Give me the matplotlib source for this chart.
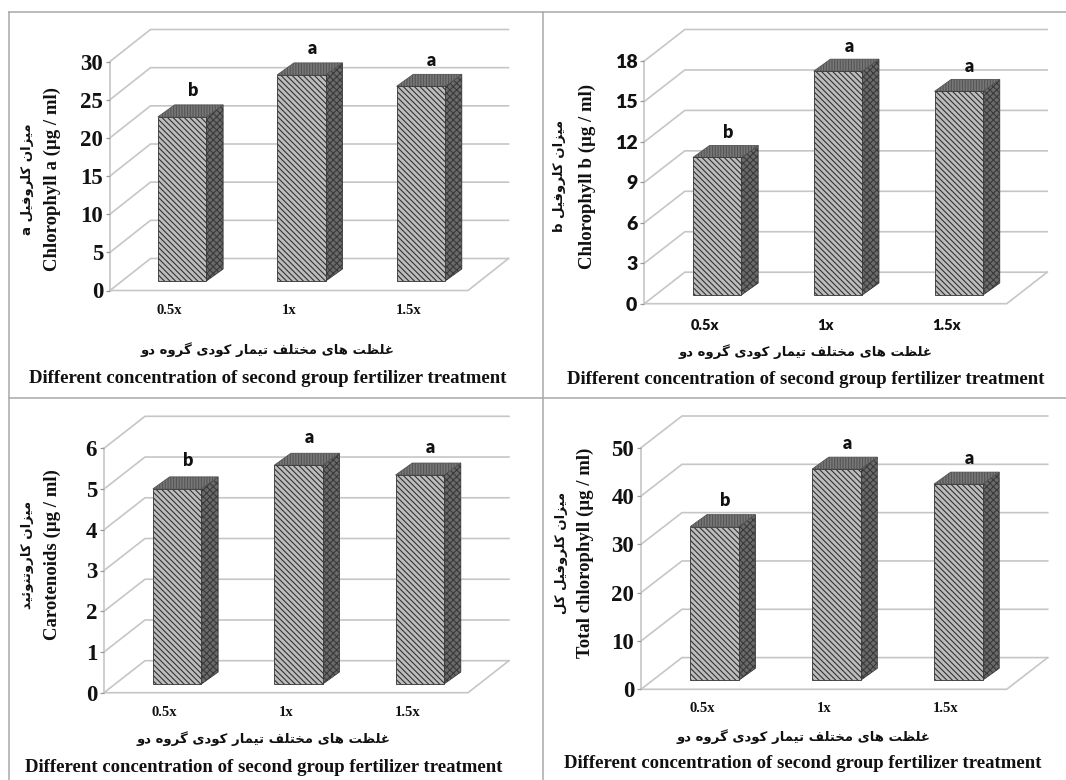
import matplotlib
matplotlib.use('Agg')
import matplotlib.pyplot as plt
from matplotlib.lines import Line2D
from matplotlib.patches import Polygon

W, H = 1066, 780

groups = ['0.5x', '1x', '1.5x']
chl_a = [21.5, 27.0, 25.5]
chl_b = [10.2, 16.6, 15.1]
carotenoids = [4.79, 5.37, 5.13]
total_chl = [31.8, 43.7, 40.6]
letters = ['b', 'a', 'a']

ticks_a = [0, 5, 10, 15, 20, 25, 30]
ticks_b = [0, 3, 6, 9, 12, 15, 18]
ticks_car = [0, 1, 2, 3, 4, 5, 6]
ticks_tot = [0, 10, 20, 30, 40, 50]

xlabel_en = 'Different concentration of second group fertilizer treatment'
xlabel_fa = 'غلظت های مختلف تیمار کودی گروه دو'
ylabel_en = ['Chlorophyll a (µg / ml)', 'Chlorophyll b (µg / ml)',
             'Carotenoids (µg / ml)', 'Total chlorophyll (µg / ml)']
ylabel_fa = ['میزان کلروفیل a', 'میزان کلروفیل b',
             'میزان کاروتنوئید', 'میزان کلروفیل کل']

# presentation forms: isolated, final, initial, medial
FORMS = {
    'ا': (0xFE8D, 0xFE8E), 'د': (0xFEA9, 0xFEAA), 'ر': (0xFEAD, 0xFEAE),
    'ز': (0xFEAF, 0xFEB0), 'و': (0xFEED, 0xFEEE),
    'ت': (0xFE95, 0xFE96, 0xFE97, 0xFE98), 'خ': (0xFEA5, 0xFEA6, 0xFEA7, 0xFEA8),
    'ظ': (0xFEC5, 0xFEC6, 0xFEC7, 0xFEC8), 'غ': (0xFECD, 0xFECE, 0xFECF, 0xFED0),
    'ف': (0xFED1, 0xFED2, 0xFED3, 0xFED4), 'ل': (0xFEDD, 0xFEDE, 0xFEDF, 0xFEE0),
    'م': (0xFEE1, 0xFEE2, 0xFEE3, 0xFEE4), 'ن': (0xFEE5, 0xFEE6, 0xFEE7, 0xFEE8),
    'ه': (0xFEE9, 0xFEEA, 0xFEEB, 0xFEEC), 'ی': (0xFBFC, 0xFBFD, 0xFBFE, 0xFBFF),
    'ک': (0xFB8E, 0xFB8F, 0xFB90, 0xFB91), 'گ': (0xFB92, 0xFB93, 0xFB94, 0xFB95),
    'ئ': (0xFE89, 0xFE8A, 0xFE8B, 0xFE8C),
}


def shape_fa(text):
    # matplotlib does no arabic shaping or bidi, so do it by hand
    out = []
    for ii, ch in enumerate(text):
        if ch not in FORMS:
            out.append(ch)
            continue
        prev = text[ii - 1] if ii > 0 else ' '
        nxt = text[ii + 1] if ii + 1 < len(text) else ' '
        joins_prev = prev in FORMS and len(FORMS[prev]) == 4
        joins_next = nxt in FORMS and len(FORMS[ch]) == 4
        if joins_prev and joins_next:
            idx = 3
        elif joins_next:
            idx = 2
        elif joins_prev:
            idx = 1
        else:
            idx = 0
        out.append(chr(FORMS[ch][idx]))
    return ''.join(reversed(out))


# all in pixels of the 1066x780 picture
panels = [
    dict(vals=chl_a, ticks=ticks_a, x0=110, x1=468, y0=290.5, y1=61.5, bar_base=281,
         back_dx=40.5, back_dy=32, ylab_x=(52, 27), ylab_y=179, xlab_x=268, xlab_y=(350, 378),
         xtick_y=310, let_off=26, sans=False),
    dict(vals=chl_b, ticks=ticks_b, x0=644.3, x1=1006.7, y0=303.7, y1=61, bar_base=295,
         back_dx=40.5, back_dy=31.5, ylab_x=(587, 560), ylab_y=176, xlab_x=806, xlab_y=(352, 379),
         xtick_y=325, let_off=25, sans=True),
    dict(vals=carotenoids, ticks=ticks_car, x0=104, x1=468, y0=692.7, y1=448.3, bar_base=684,
         back_dx=41, back_dy=32, ylab_x=(52, 27), ylab_y=555, xlab_x=264, xlab_y=(739, 767),
         xtick_y=712, let_off=28, sans=False),
    dict(vals=total_chl, ticks=ticks_tot, x0=641, x1=1006.7, y0=689.3, y1=447.7, bar_base=680.3,
         back_dx=41, back_dy=31.7, ylab_x=(585, 561), ylab_y=553, xlab_x=803, xlab_y=(737, 764),
         xtick_y=708, let_off=26, sans=False),
]

GRID = '#c6c6c6'
SERIF = 'Liberation Serif'
SANS = 'Lato'
BAR_W = 48.5
BAR_DX, BAR_DY = 16.7, 12

plt.rcParams['hatch.linewidth'] = 0.8
fig = plt.figure(figsize=(W / 100, H / 100), dpi=100, facecolor='white')

# frame between the four panels
for xs, ys in [((9, W), (12, 12)), ((9, W), (398, 398)),
               ((9, 9), (12, H)), ((542.5, 542.5), (12, H))]:
    fig.add_artist(Line2D([x / W for x in xs], [1 - y / H for y in ys],
                          color='#a8a8a8', lw=1.1))


def draw_panel(p):
    ax = fig.add_axes([p['x0'] / W, 1 - p['y0'] / H,
                       (p['x1'] - p['x0']) / W, (p['y0'] - p['y1']) / H])
    top = p['ticks'][-1]
    ax.set_xlim(0, 3)
    ax.set_ylim(0, top)
    ax.patch.set_alpha(0)
    for sp in ax.spines.values():
        sp.set_visible(False)

    px_x = 3 / (p['x1'] - p['x0'])
    px_y = top / (p['y0'] - p['y1'])
    dx, dy = p['back_dx'] * px_x, p['back_dy'] * px_y

    # walls and floor
    ax.plot([0, 0], [0, top], color=GRID, lw=1.2, clip_on=False, zorder=1)
    for v in p['ticks']:
        ax.plot([0, dx, 3 + dx], [v, v + dy, v + dy], color=GRID, lw=1.2,
                clip_on=False, zorder=1)
    ax.plot([0, 3, 3 + dx], [0, 0, dy], color=GRID, lw=1.2, clip_on=False, zorder=1)

    # bars sit a bit behind the front plane
    base = (p['y0'] - p['bar_base']) * px_y
    shift = 12.5 * px_x
    bw, bdx, bdy = BAR_W * px_x, BAR_DX * px_x, BAR_DY * px_y
    for ii, v in enumerate(p['vals']):
        left = ii + 0.5 + shift - bw / 2
        right = left + bw
        h = base + v
        ax.add_patch(Polygon([(right, base), (right + bdx, base + bdy), (right + bdx, h + bdy), (right, h)],
                             facecolor='#6a6a6a', edgecolor='#3a3a3a', hatch='xxxxx', lw=0.6,
                             clip_on=False, zorder=3))
        ax.add_patch(Polygon([(left, h), (right, h), (right + bdx, h + bdy), (left + bdx, h + bdy)],
                             facecolor='#777777', edgecolor='#555555', hatch='||||||', lw=0.6,
                             clip_on=False, zorder=3))
        ax.add_patch(Polygon([(left, base), (right, base), (right, h), (left, h)],
                             facecolor='#bdbdbd', edgecolor='#333333', hatch='\\\\\\\\\\\\', lw=0.6,
                             clip_on=False, zorder=4))
        ax.annotate(letters[ii], xy=(left + bw / 2 + 11 * px_x, h), xytext=(0, p['let_off'] * 0.72),
                    textcoords='offset points', ha='center', va='center', family=SANS,
                    fontweight='heavy', fontsize=13, color='#111111', annotation_clip=False)

    tick_font = SANS if p['sans'] else SERIF
    ax.set_yticks(p['ticks'])
    ax.tick_params(axis='y', length=3, width=0.9, color='#999999', pad=2,
                   labelsize=14 if p['sans'] else 16.5)
    ax.set_xticks([ii + 0.5 for ii in range(len(groups))], groups)
    ax.tick_params(axis='x', length=0, pad=(p['xtick_y'] - p['y0'] - 6) * 0.72, labelsize=10.5)
    for lab in ax.get_yticklabels() + ax.get_xticklabels():
        lab.set_family(tick_font)
        lab.set_fontweight('heavy' if p['sans'] else 'bold')
        lab.set_color('#111111')


def add_labels(p, idx):
    kw = dict(ha='center', va='center', color='#111111', fontweight='bold')
    fig.text(p['ylab_x'][0] / W, 1 - p['ylab_y'] / H, ylabel_en[idx], rotation=90,
             family=SERIF, fontsize=13.5, **kw)
    fig.text(p['ylab_x'][1] / W, 1 - p['ylab_y'] / H, shape_fa(ylabel_fa[idx]), rotation=90,
             family='DejaVu Sans', fontsize=9.5, **kw)
    fig.text(p['xlab_x'] / W, 1 - p['xlab_y'][0] / H, shape_fa(xlabel_fa),
             family='DejaVu Sans', fontsize=9.5, **kw)
    fig.text(p['xlab_x'] / W, 1 - p['xlab_y'][1] / H, xlabel_en,
             family=SERIF, fontsize=13.5, **kw)


for idx, p in enumerate(panels):
    draw_panel(p)
    add_labels(p, idx)

fig.savefig('out.png', dpi=100)
